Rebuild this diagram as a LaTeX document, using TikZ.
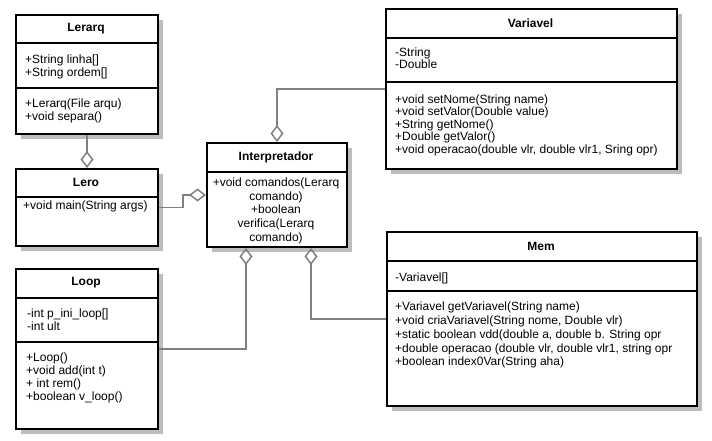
\documentclass[tikz,border=0pt]{standalone}
\usepackage{fontspec}
\setmainfont{Liberation Sans}
\usetikzlibrary{arrows.meta,shadows,calc}
\definecolor{linegray}{HTML}{808080}
\definecolor{shadowgray}{HTML}{BDBDBD}
\tikzset{
    classbox/.style={draw=black,line width=2pt,fill=white,anchor=north west,inner sep=0pt,
        drop shadow={shadow xshift=5pt,shadow yshift=-5pt,fill=shadowgray,opacity=1}},
    divider/.style={black,line width=2pt},
    classname/.style={font=\fontsize{12}{14}\selectfont\bfseries},
    members/.style={anchor=north west,align=left,inner sep=0pt,font=\fontsize{12}{#1}\selectfont},
    members/.default=13,
    aggregation/.style={draw=linegray,line width=1.5pt,-{Diamond[open,length=17pt,width=13pt]}}
}
\begin{document}
\begin{tikzpicture}[x=1pt,y=-1pt]
\useasboundingbox (0,0) rectangle (712,441);
\node[classbox,minimum width=142,minimum height=119](lerarq) at (15,14) {};
\node[classname](lerarq-name) at (86,28.5) {Lerarq};
\draw[divider](15,43)--(157,43);
\draw[divider](15,88)--(157,88);
\node[members](lerarq-attr) at (25,54.5) {+String linha[]\\+String ordem[]};
\node[members](lerarq-ops) at (25,98.5) {+Lerarq(File arqu)\\+void separa()};

\node[classbox,minimum width=142,minimum height=77](lero) at (15,168) {};
\node[classname](lero-name) at (86,182.5) {Lero};
\draw[divider](15,197)--(157,197);
\node[members](lero-ops) at (23,200.5) {+void main(String args)};

\node[classbox,minimum width=142,minimum height=160](loop) at (15,268) {};
\node[classname](loop-name) at (86,283) {Loop};
\draw[divider](15,298)--(157,298);
\draw[divider](15,342)--(157,342);
\node[members](loop-attr) at (27,308.5) {-int p\_ini\_loop[]\\-int ult};
\node[members=13.1](loop-ops) at (26,352.5) {+Loop()\\+void add(int t)\\+ int rem()\\+boolean v\_loop()};

\node[classbox,minimum width=140,minimum height=104](interp) at (206,142) {};
\node[classname](interp-name) at (276,157) {Interpretador};
\draw[divider](206,172)--(346,172);
\node[members=13.7,anchor=north,align=center](interp-ops) at (276,177.5)
    {+void comandos(Lerarq\\comando)\\+boolean\\verifica(Lerarq\\comando)};

\node[classbox,minimum width=291,minimum height=160](variavel) at (385,8) {};
\node[classname](variavel-name) at (530.5,23) {Variavel};
\draw[divider](385,38)--(676,38);
\draw[divider](385,82)--(676,82);
\node[members=12.5](variavel-attr) at (395,47.5) {-String\\-Double};
\node[members=12.5](variavel-ops) at (395,94.5) {+void setNome(String name)\\+void setValor(Double value)\\+String getNome()\\+Double getValor()\\+void operacao(double vlr, double vlr1, Sring opr)};

\node[classbox,minimum width=310,minimum height=174](mem) at (386,231) {};
\node[classname](mem-name) at (541,246) {Mem};
\draw[divider](386,261)--(696,261);
\draw[divider](386,291)--(696,291);
\node[members](mem-attr) at (395,272.5) {-Variavel[]};
\node[members=13.9](mem-ops) at (395,301.5) {+Variavel getVariavel(String name)\\+void criaVariavel(String nome, Double vlr)\\+static boolean vdd(double a, double b. String opr\\+double operacao (double vlr, double vlr1, string opr\\+boolean index0Var(String aha)};

\draw[aggregation](lerarq)--(lero);
\draw[aggregation](lero.east)--++(24,0)|-(interp.west);
\draw[aggregation](variavel.west)-|(interp.north);
\draw[aggregation](loop.east)-|($(interp.south)+(-31,0)$);
\draw[aggregation](mem.west)-|($(interp.south)+(34,0)$);
\end{tikzpicture}
\end{document}
